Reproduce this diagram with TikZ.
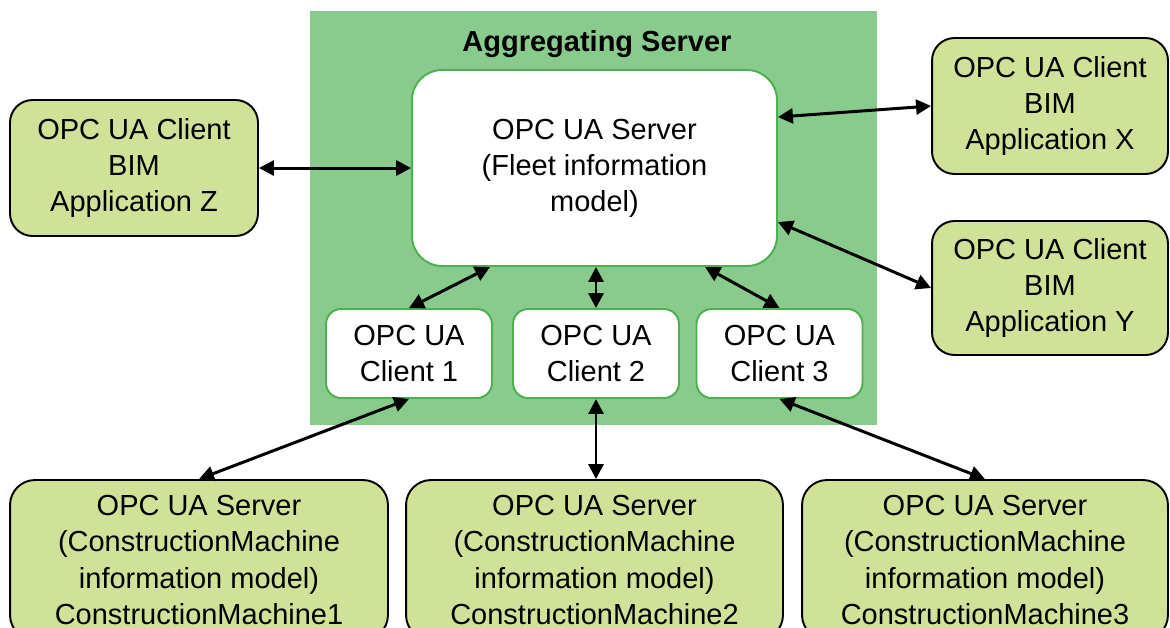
\documentclass[tikz,border=0pt]{standalone}
\usepackage{fontspec}
\setmainfont{Liberation Sans}
\usetikzlibrary{arrows.meta}

\definecolor{aggGreen}{RGB}{136,203,140}
\definecolor{boxGreen}{RGB}{208,226,152}
\definecolor{edgeGreen}{RGB}{76,175,80}

\begin{document}
\begin{tikzpicture}[x=0.02cm,y=-0.02cm]

    \tikzset{
      appbox/.style={
        draw=black,
        fill=boxGreen,
        line width=1.1pt,
        rounded corners=0.45cm,
        align=center,
        inner sep=0pt,
        font=\fontsize{16.5}{20.5}\selectfont,
      },
      whitebox/.style={
        draw=edgeGreen,
        fill=white,
        line width=1.1pt,
        align=center,
        inner sep=0pt,
        font=\fontsize{16.5}{20.5}\selectfont,
      },
      link/.style={
        line width=1.7pt,
        {Triangle[length=0.3cm,width=0.3cm]}-{Triangle[length=0.3cm,width=0.3cm]},
      },
    }
    \useasboundingbox (0,0) rectangle (1170,627);

    % aggregating server
	\node[fill=aggGreen, minimum width=11.34cm, minimum height=8.28cm, inner sep=0pt] (agg) at (593.5,218) {};
	\node[font=\fontsize{16.5}{20.5}\selectfont\bfseries] (aggTitle) at (597,44) {Aggregating Server};
	\node[whitebox, rounded corners=0.6cm, minimum width=7.3cm, minimum height=3.92cm] (srv) at (594.5,168) {OPC UA Server\\(Fleet information\\model)};
	\node[whitebox, rounded corners=0.3cm, minimum width=3.32cm, minimum height=1.78cm] (cli1) at (409,353.5) {OPC UA\\Client 1};
	\node[whitebox, rounded corners=0.3cm, minimum width=3.32cm, minimum height=1.78cm] (cli2) at (596,353.5) {OPC UA\\Client 2};
	\node[whitebox, rounded corners=0.3cm, minimum width=3.32cm, minimum height=1.78cm] (cli3) at (779.5,353.5) {OPC UA\\Client 3};

    % BIM clients
	\node[appbox, minimum width=4.96cm, minimum height=2.72cm] (appZ) at (134,168) {OPC UA Client\\BIM\\Application Z};
	\node[appbox, minimum width=4.72cm, minimum height=2.72cm] (appX) at (1050,106) {OPC UA Client\\BIM\\Application X};
	\node[appbox, minimum width=4.72cm, minimum height=2.68cm] (appY) at (1050,288) {OPC UA Client\\BIM\\Application Y};

    % machine servers
	\node[appbox, rounded corners=0.5cm, minimum width=7.56cm, minimum height=3.2cm] (cm1) at (199,560) {OPC UA Server\\(ConstructionMachine\\information model)\\ConstructionMachine1};
	\node[appbox, rounded corners=0.5cm, minimum width=7.54cm, minimum height=3.2cm] (cm2) at (594.5,560) {OPC UA Server\\(ConstructionMachine\\information model)\\ConstructionMachine2};
	\node[appbox, rounded corners=0.5cm, minimum width=7.32cm, minimum height=3.2cm] (cm3) at (985,560) {OPC UA Server\\(ConstructionMachine\\information model)\\ConstructionMachine3};

	\draw[link] (appZ.east) -- (appZ.east -| srv.west);
	\draw[link] ([yshift=1.02cm]srv.east) -- (appX.west);
	\draw[link] ([yshift=-1.08cm]srv.east) -- (appY.west);
	\draw[link] ([xshift=-2.09cm]srv.south) -- (cli1.north);
	\draw[link] (cli2.north |- srv.south) -- (cli2.north);
	\draw[link] ([xshift=2.21cm]srv.south) -- (cli3.north);
	\draw[link] (cli1.south) -- (cm1.north);
	\draw[link] (cli2.south) -- (cli2.south |- cm2.north);
	\draw[link] (cli3.south) -- (cm3.north);

\end{tikzpicture}
\end{document}
